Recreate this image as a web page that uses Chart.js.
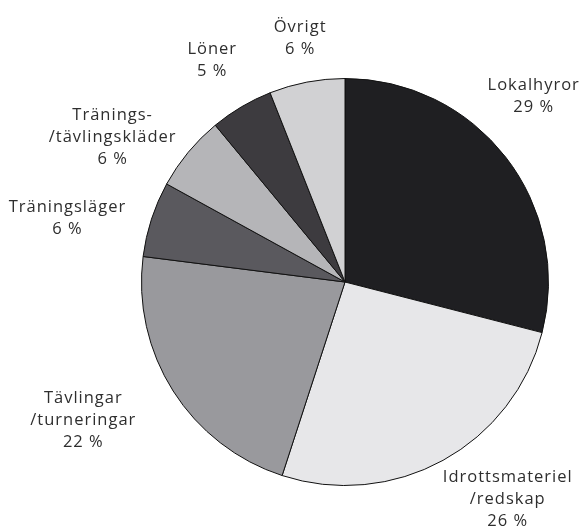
<!DOCTYPE html>
<html>
<head>
<meta charset="utf-8">
<script src="https://cdn.jsdelivr.net/npm/chart.js@4.4.1/dist/chart.umd.min.js"></script>
<style>
  html,body{margin:0;padding:0;background:#fff;}
  #wrap{width:584px;height:530px;position:relative;}
</style>
</head>
<body>
<div id="wrap"><canvas id="c-pie"></canvas></div>
<script>
// ── data ──
const LABELS = [
  ['Lokalhyror'],
  ['Idrottsmateriel', '/redskap'],
  ['Tävlingar', '/turneringar'],
  ['Träningsläger'],
  ['Tränings-', '/tävlingskläder'],
  ['Löner'],
  ['Övrigt']
];
const SHARES = [29, 26, 22, 6, 6, 5, 6];

// ── look ──
const FILLS = ['#1f1f22', '#e7e7e9', '#99999d', '#5a595e', '#b5b5b8', '#3d3b3f', '#d1d1d3'];
// label placement: angle (deg, clockwise from top) and distance / radius
const LBL_ANG = [45.5, 143.2, 242.1, 283, 301.9, 329.1, 349.6];
const LBL_DST = [1.30, 1.335, 1.455, 1.40, 1.345, 1.27, 1.22];

const outLabels = {
  id: 'outLabels',
  afterDraw(chart){
    const ctx = chart.ctx;
    const arcs = chart.getDatasetMeta(0).data;
    ctx.save();
    ctx.font = '16.5px "Open Sans", sans-serif';
    ctx.letterSpacing = '1px';
    ctx.fillStyle = '#2e2e2e';
    ctx.textAlign = 'center';
    ctx.textBaseline = 'middle';
    arcs.forEach((a, i) => {
      const p = a.getProps(['x','y','outerRadius'], true);
      const th = LBL_ANG[i] * Math.PI / 180;
      const d = p.outerRadius * LBL_DST[i];
      const cx = p.x + Math.sin(th) * d;
      const cy = p.y - Math.cos(th) * d;
      const lines = [...LABELS[i], SHARES[i] + ' %'];
      const lh = 22;
      const y0 = cy - (lines.length - 1) * lh / 2;
      lines.forEach((t, j) => ctx.fillText(t, cx, y0 + j * lh));
    });
    ctx.restore();
  }
};

new Chart(document.getElementById('c-pie'), {
  type: 'pie',
  data: {
    labels: LABELS.map(l => l.join(' ')),
    datasets: [{
      data: SHARES,
      backgroundColor: FILLS,
      borderColor: '#111',
      borderWidth: 1
    }]
  },
  options: {
    responsive: true,
    maintainAspectRatio: false,
    animation: false,
    layout: { padding: { left: 141, right: 35, top: 78, bottom: 44 } },
    plugins: { legend: { display: false }, tooltip: { enabled: false } }
  },
  plugins: [outLabels]
});
</script>
</body>
</html>
